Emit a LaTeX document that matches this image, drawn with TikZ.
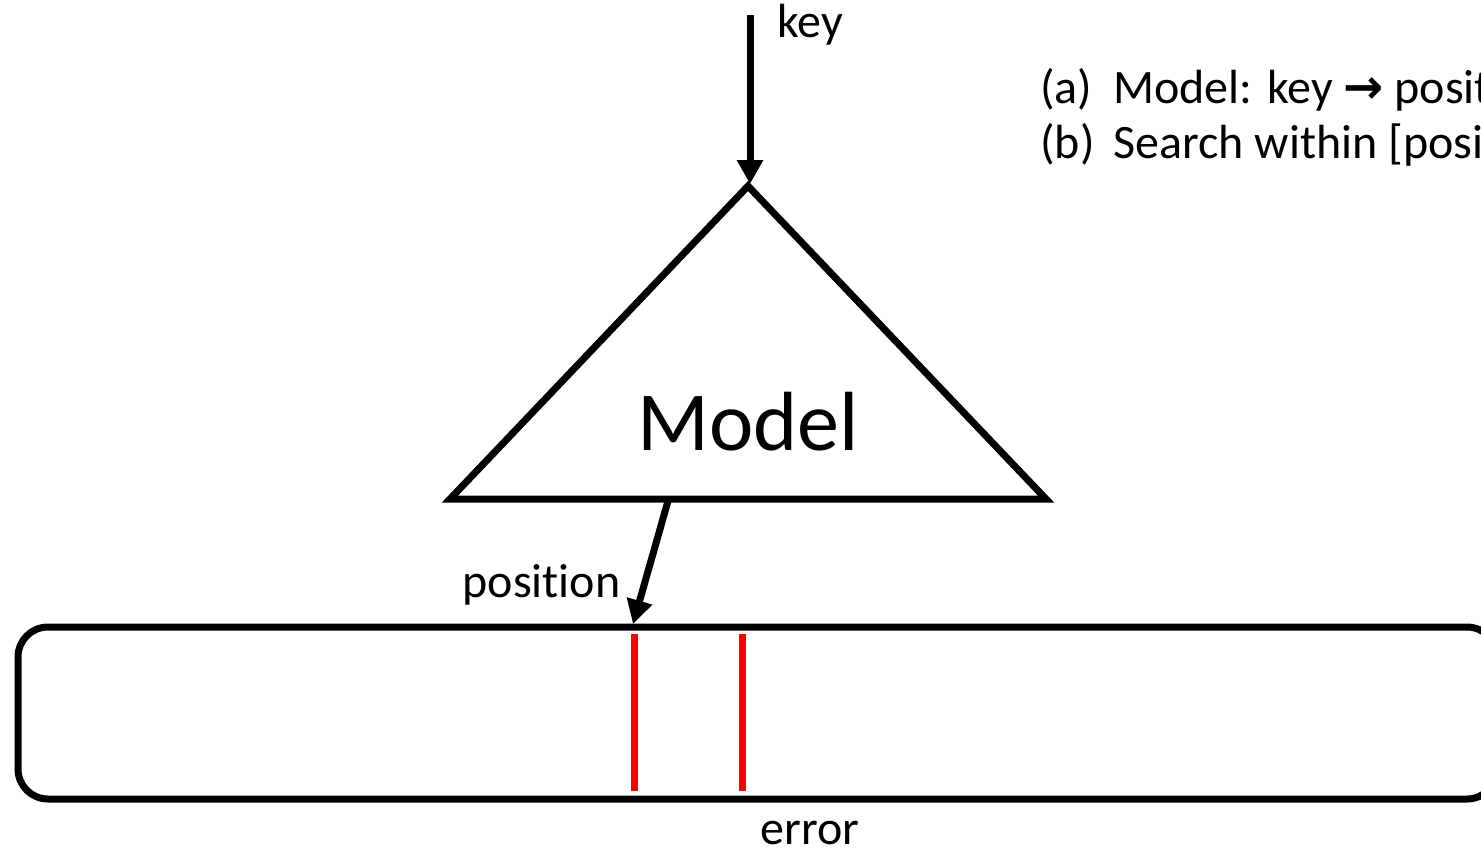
\documentclass[tikz,border=0pt]{standalone}
\usepackage{fontspec}
\setmainfont{Carlito}[Ligatures=NoCommon]
\newfontfamily\symfont{DejaVu Sans}
\usetikzlibrary{arrows.meta}
\begin{document}
\begin{tikzpicture}[x=0.5pt,y=-0.5pt,
  thick line/.style={line width=3.5pt},
  flow/.style={thick line,-{Triangle[length=12pt,width=12.5pt]}},
  marker/.style={line width=3.5pt,draw=red},
  label/.style={inner sep=0pt,font=\fontsize{24pt}{28.8pt}\selectfont},
]
\useasboundingbox (0,0) rectangle (1481,853);
\clip (0,0) rectangle (1481,853);

% model triangle
\coordinate (apex) at (748,186);
\coordinate (bl) at (450,499);
\coordinate (br) at (1046,499);
\draw[thick line] (apex) -- (bl) -- (br) -- cycle;
\node[inner sep=0pt,font=\fontsize{42pt}{50pt}\selectfont] (model) at (748,422) {Model};

% input key
\coordinate (keyin) at (750,15);
\draw[flow] (keyin) -- (750,184);
\node[label,anchor=base west] (key) at (777,37) {key};

% sorted array
\draw[thick line,rounded corners=15pt] (18,627) rectangle (1497,799);
\coordinate (arrtop) at (633,624);
\coordinate (out) at (668,501);
\draw[flow] (out) -- (arrtop);
\node[label,anchor=base east] (pos) at (621,597) {position};

% error bounds
\coordinate (lo1) at (634,634);
\coordinate (lo2) at (634,791);
\coordinate (hi1) at (742,634);
\coordinate (hi2) at (742,791);
\draw[marker] (lo1) -- (lo2);
\draw[marker] (hi1) -- (hi2);
\node[label,anchor=base] (err) at (810,844) {error};

% legend
\node[label,anchor=base west] (la) at (1040,103) {\makebox[36.5pt][l]{(a)}Model: key {\symfont\bfseries →} position};
\node[label,anchor=base west] (lb) at (1040,158) {\makebox[36.5pt][l]{(b)}Search within [position};
\end{tikzpicture}
\end{document}
